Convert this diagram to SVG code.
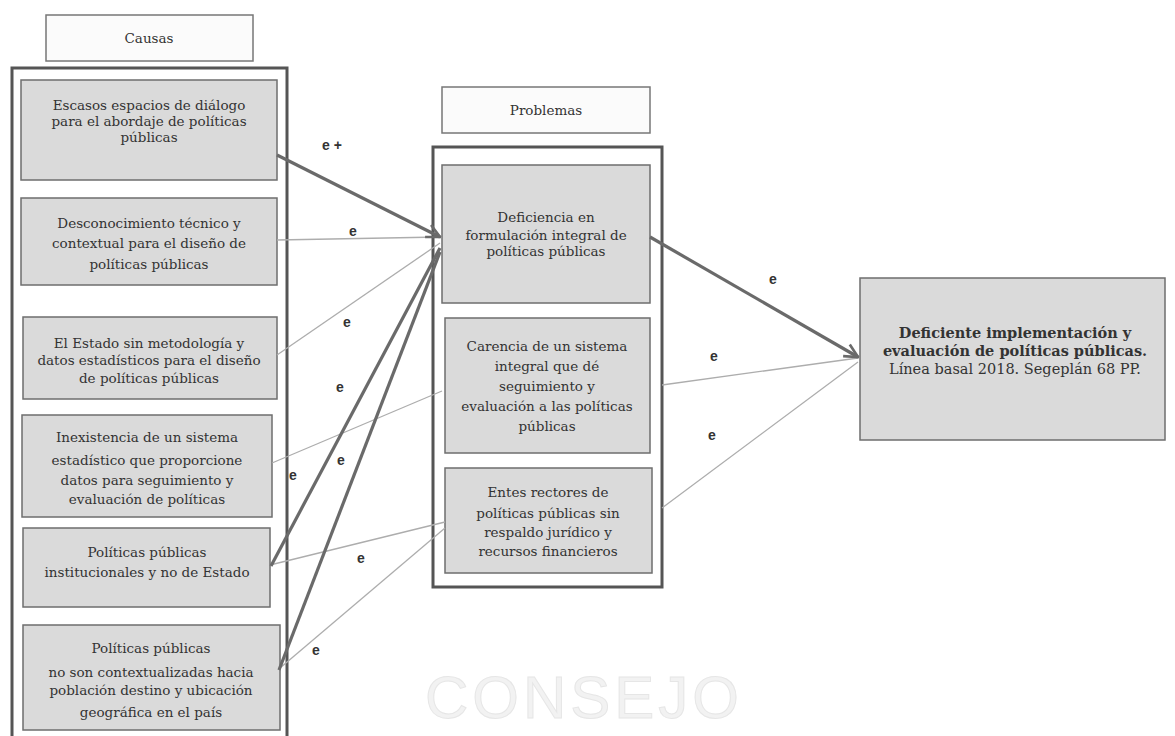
<svg xmlns="http://www.w3.org/2000/svg" width="1175" height="736" viewBox="0 0 1175 736">
<style>
.hdr{fill:#fbfbfb;stroke:#777;stroke-width:1.5}
.cont{fill:none;stroke:#555;stroke-width:3}
.box{fill:#dadada;stroke:#6e6e6e;stroke-width:1.5}
.t{font-family:"DejaVu Serif","Liberation Serif",serif;font-size:13.5px;fill:#333;text-anchor:middle}
.r{font-size:14.5px}
.tb{font-weight:bold}
.thick{stroke:#6a6a6a;stroke-width:3.2;fill:none}
.thin{stroke:#adadad;stroke-width:1.3;fill:none}
.lbl{font-family:"Liberation Sans",Arial,sans-serif;font-size:14px;font-weight:bold;fill:#333;text-anchor:middle}
.wm{font-family:"Liberation Sans",Arial,sans-serif;font-size:60px;fill:#f2f2f2;stroke:#e6e6e6;stroke-width:1}
</style>
<defs>
<marker id="arr" viewBox="0 0 12 12" refX="11" refY="6" markerWidth="16" markerHeight="16" markerUnits="userSpaceOnUse" orient="auto">
<path d="M1,1 L11,6 L1,11" fill="none" stroke="#6a6a6a" stroke-width="2"/>
</marker>
</defs>
<rect x="0" y="0" width="1175" height="736" fill="#ffffff"/>
<text class="wm" x="425" y="718" letter-spacing="4">CONSEJO</text>

<g id="causas-header"><rect class="hdr" x="46" y="15" width="207" height="46"/><text class="t" x="149" y="43">Causas</text></g>
<g id="causas-container"><rect class="cont" x="12" y="68" width="275" height="680"/></g>

<g id="c1"><rect class="box" x="21" y="80" width="256" height="100"/>
<text class="t"><tspan x="149" y="110">Escasos espacios de diálogo</tspan><tspan x="149" y="126">para el abordaje de políticas</tspan><tspan x="149" y="142">públicas</tspan></text></g>
<g id="c2"><rect class="box" x="21" y="198" width="256" height="87"/>
<text class="t"><tspan x="149" y="228">Desconocimiento técnico y</tspan><tspan x="149" y="248">contextual para el diseño de</tspan><tspan x="149" y="269">políticas públicas</tspan></text></g>
<g id="c3"><rect class="box" x="23" y="317" width="254" height="82"/>
<text class="t"><tspan x="149" y="348">El Estado sin metodología y</tspan><tspan x="149" y="365">datos estadísticos para el diseño</tspan><tspan x="149" y="383">de políticas públicas</tspan></text></g>
<g id="c4"><rect class="box" x="22" y="415" width="250" height="102"/>
<text class="t"><tspan x="147" y="442">Inexistencia de un sistema</tspan><tspan x="147" y="465">estadístico que proporcione</tspan><tspan x="147" y="485">datos para seguimiento y</tspan><tspan x="147" y="504">evaluación de políticas</tspan></text></g>
<g id="c5"><rect class="box" x="23" y="528" width="247" height="79"/>
<text class="t"><tspan x="147" y="557">Políticas públicas</tspan><tspan x="147" y="577">institucionales y no de Estado</tspan></text></g>
<g id="c6"><rect class="box" x="23" y="625" width="257" height="105"/>
<text class="t"><tspan x="151" y="653">Políticas públicas</tspan><tspan x="151" y="677">no son contextualizadas hacia</tspan><tspan x="151" y="695">población destino y ubicación</tspan><tspan x="151" y="717">geográfica en el país</tspan></text></g>

<g id="problemas-header"><rect class="hdr" x="442" y="87" width="208" height="46"/><text class="t" x="546" y="115">Problemas</text></g>
<g id="problemas-container"><rect class="cont" x="433" y="147" width="229" height="440"/></g>

<g id="p1"><rect class="box" x="442" y="165" width="208" height="138"/>
<text class="t"><tspan x="546" y="222">Deficiencia en</tspan><tspan x="546" y="240">formulación integral de</tspan><tspan x="546" y="256">políticas públicas</tspan></text></g>
<g id="p2"><rect class="box" x="445" y="318" width="205" height="135"/>
<text class="t"><tspan x="547" y="351">Carencia de un sistema</tspan><tspan x="547" y="371">integral que dé</tspan><tspan x="547" y="391">seguimiento y</tspan><tspan x="547" y="411">evaluación a las políticas</tspan><tspan x="547" y="431">públicas</tspan></text></g>
<g id="p3"><rect class="box" x="445" y="468" width="207" height="105"/>
<text class="t"><tspan x="548" y="497">Entes rectores de</tspan><tspan x="548" y="518">políticas públicas sin</tspan><tspan x="548" y="537">respaldo jurídico y</tspan><tspan x="548" y="556">recursos financieros</tspan></text></g>

<g id="efecto"><rect class="box" x="860" y="278" width="305" height="162"/>
<text class="t r"><tspan class="tb" x="1015" y="338">Deficiente implementación y</tspan><tspan class="tb" x="1015" y="356">evaluación de políticas públicas.</tspan><tspan x="1015" y="374">Línea basal 2018. Segeplán 68 PP.</tspan></text></g>

<g id="connectors">
<line class="thin" x1="277" y1="240" x2="440" y2="237"/>
<line class="thin" x1="277" y1="355" x2="440" y2="243"/>
<line class="thin" x1="272" y1="463" x2="442" y2="391"/>
<line class="thin" x1="270" y1="565" x2="445" y2="522"/>
<line class="thin" x1="280" y1="668" x2="445" y2="528"/>
<line class="thin" x1="662" y1="385" x2="858" y2="358"/>
<line class="thin" x1="662" y1="508" x2="858" y2="362"/>
<line class="thick" x1="277" y1="155" x2="440" y2="237" marker-end="url(#arr)"/>
<line class="thick" x1="271" y1="566" x2="440" y2="248"/>
<line class="thick" x1="279" y1="670" x2="440" y2="252"/>
<line class="thick" x1="650" y1="237" x2="858" y2="357" marker-end="url(#arr)"/>
<text class="lbl" x="332" y="150">e +</text>
<text class="lbl" x="353" y="236">e</text>
<text class="lbl" x="347" y="327">e</text>
<text class="lbl" x="340" y="392">e</text>
<text class="lbl" x="341" y="465">e</text>
<text class="lbl" x="293" y="480">e</text>
<text class="lbl" x="361" y="563">e</text>
<text class="lbl" x="316" y="655">e</text>
<text class="lbl" x="773" y="284">e</text>
<text class="lbl" x="714" y="361">e</text>
<text class="lbl" x="712" y="440">e</text>
</g>
</svg>
